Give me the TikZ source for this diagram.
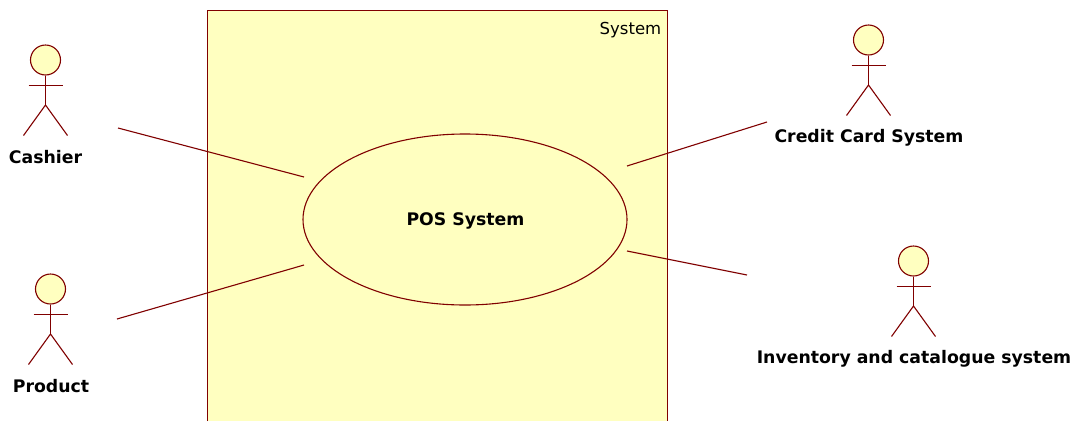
\documentclass[tikz,border=0pt]{standalone}
\usepackage{fontspec}
\usetikzlibrary{shapes.geometric}
\setmainfont{DejaVu Sans}
\definecolor{lineC}{RGB}{128,0,0}
\definecolor{fillC}{RGB}{255,255,192}
\tikzset{x=1pt,y=-1pt,
 ln/.style={draw=lineC,line width=1.1pt},
 lab/.style={font=\bfseries\fontsize{17.3}{19}\selectfont,text=black,inner sep=0pt,anchor=center},
 head/.style={circle,draw=lineC,fill=fillC,line width=1.1pt,minimum size=30pt,inner sep=0pt}}
\newcommand{\actor}[3]{%
 \node[head] (#1h) at (#2,#3) {};
 \coordinate (#1w) at (#2,#3+45);
 \coordinate (#1l) at (#2-22,#3+75.5);
 \coordinate (#1r) at (#2+22,#3+75.5);
 \coordinate (#1al) at (#2-17,#3+25.5);
 \coordinate (#1ar) at (#2+17,#3+25.5);
 \draw[ln] (#1h.south) -- (#1w);
 \draw[ln] (#1al) -- (#1ar);
 \draw[ln] (#1l) -- (#1w) -- (#1r);
}
\begin{document}
\begin{tikzpicture}
\useasboundingbox (0,0) rectangle (1078,421);
\fill[white] (0,0) rectangle (1078,421);
\coordinate (sa) at (207.5,421); \coordinate (sb) at (207.5,10.5); \coordinate (sc) at (667.5,10.5); \coordinate (sd) at (667.5,421);
\fill[fillC] (sa) -- (sb) -- (sc) -- (sd) -- cycle;
\draw[ln] (sa) -- (sb) -- (sc) -- (sd);
\node[font=\fontsize{16.5}{18}\selectfont,inner sep=0pt] (sys) at (630.5,30) {System};
\node[ellipse,draw=lineC,fill=fillC,line width=1.1pt,minimum width=324pt,minimum height=171pt,inner sep=0pt] (uc) at (465,219.5) {};
\node[lab] (uct) at (465.5,221.3) {POS System};
\actor{a}{45.5}{60}
\actor{b}{50.5}{289}
\actor{c}{868.5}{40}
\actor{d}{913.5}{261}
\node[lab] (at) at (45.5,157.3) {Cashier};
\node[lab] (bt) at (51,386.3) {Product};
\node[lab] (ct) at (869,137.3) {Credit Card System};
\node[lab] (dt) at (914,358.3) {Inventory and catalogue system};
\coordinate (e1) at (118,128); \coordinate (u1) at (304,177);
\coordinate (e2) at (117,319); \coordinate (u2) at (304,265);
\coordinate (e3) at (767,122); \coordinate (u3) at (627,166);
\coordinate (e4) at (747,275); \coordinate (u4) at (627,251);
\draw[ln] (e1) -- (u1);
\draw[ln] (e2) -- (u2);
\draw[ln] (e3) -- (u3);
\draw[ln] (e4) -- (u4);
\end{tikzpicture}
\end{document}
